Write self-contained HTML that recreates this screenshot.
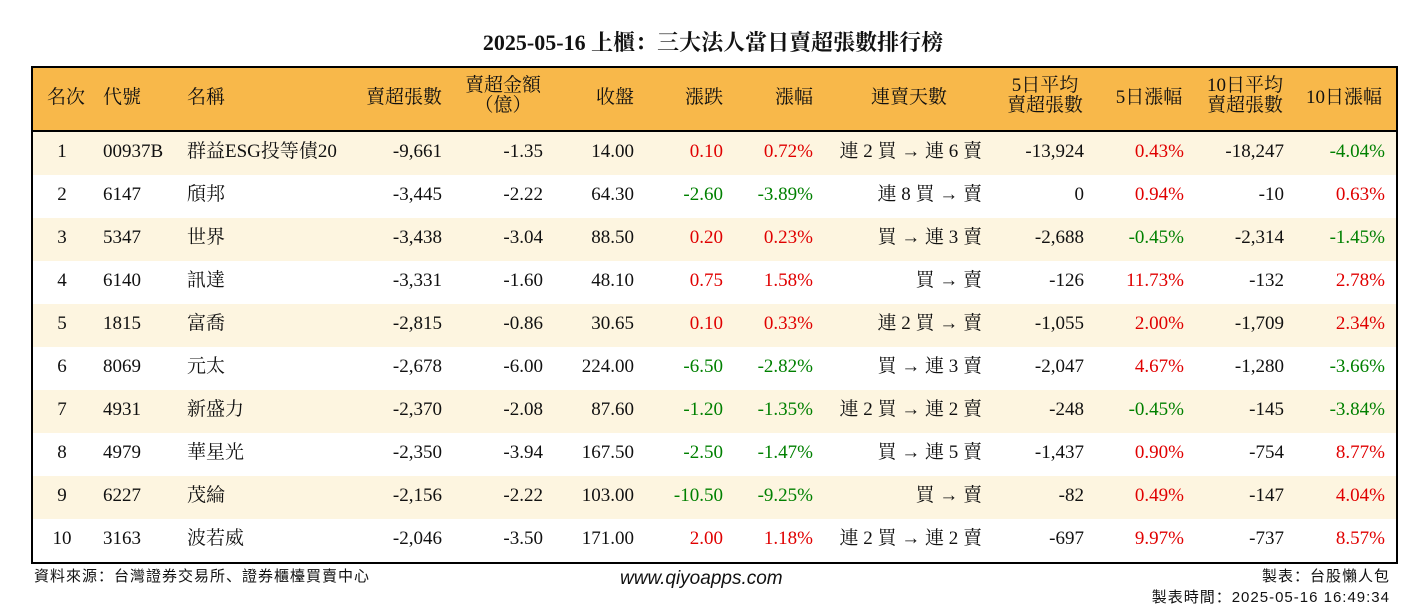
<!DOCTYPE html>
<html><head><meta charset="utf-8"><style>
body{margin:0;width:1426px;height:612px;background:#fff;position:relative;overflow:hidden;font-family:"Liberation Serif","Noto Serif CJK SC",serif;color:#111}
.t{position:absolute;white-space:nowrap;font-size:19px;line-height:24px}
#title{position:absolute;left:0;width:1426px;top:28px;line-height:30px;text-align:center;font-size:22px;font-weight:bold;font-family:"Liberation Serif","Noto Serif CJK SC",serif}
#tbl{position:absolute;left:31px;top:66px;width:1363px;height:494px;border:2px solid #000}
#hdr{position:absolute;left:0;top:0;width:1363px;height:62px;background:#f8b84a;border-bottom:2px solid #000}
.row{position:absolute;left:0;width:1363px;height:43px}
.foot{position:absolute;font-family:"Liberation Sans","WenQuanYi Zen Hei",sans-serif;font-size:15px;line-height:20px;white-space:nowrap;letter-spacing:1px}
.r{color:#e00000}.g{color:#008000}
</style></head><body>
<div id="title">2025-05-16 上櫃：三大法人當日賣超張數排行榜</div>
<div id="tbl"><div id="hdr"></div></div>
<div class="foot" style="left:34px;top:567px">資料來源：台灣證券交易所、證券櫃檯買賣中心</div>
<div class="foot" style="left:620px;top:569px;font-size:19px;font-style:italic;letter-spacing:0">www.qiyoapps.com</div>
<div class="foot" style="right:36px;top:567px">製表：台股懶人包</div>
<div class="foot" style="right:36px;top:588px">製表時間：2025-05-16 16:49:34</div>
<script>
const headers=["名次","代號","名稱","賣超張數","賣超金額<br>（億）","收盤","漲跌","漲幅","連賣天數","5日平均<br>賣超張數","5日漲幅","10日平均<br>賣超張數","10日漲幅"];
const ranks=[1,2,3,4,5,6,7,8,9,10];
const codes=["00937B","6147","5347","6140","1815","8069","4931","4979","6227","3163"];
const names=["群益ESG投等債20","頎邦","世界","訊達","富喬","元太","新盛力","華星光","茂綸","波若威"];
const sellQty=["-9,661","-3,445","-3,438","-3,331","-2,815","-2,678","-2,370","-2,350","-2,156","-2,046"];
const sellAmt=["-1.35","-2.22","-3.04","-1.60","-0.86","-6.00","-2.08","-3.94","-2.22","-3.50"];
const closes=["14.00","64.30","88.50","48.10","30.65","224.00","87.60","167.50","103.00","171.00"];
const chg=["0.10","-2.60","0.20","0.75","0.10","-6.50","-1.20","-2.50","-10.50","2.00"];
const chgPct=["0.72%","-3.89%","0.23%","1.58%","0.33%","-2.82%","-1.35%","-1.47%","-9.25%","1.18%"];
const streak=["連 2 買 → 連 6 賣","連 8 買 → 賣","買 → 連 3 賣","買 → 賣","連 2 買 → 賣","買 → 連 3 賣","連 2 買 → 連 2 賣","買 → 連 5 賣","買 → 賣","連 2 買 → 連 2 賣"];
const avg5=["-13,924","0","-2,688","-126","-1,055","-2,047","-248","-1,437","-82","-697"];
const pct5=["0.43%","0.94%","-0.45%","11.73%","2.00%","4.67%","-0.45%","0.90%","0.49%","9.97%"];
const avg10=["-18,247","-10","-2,314","-132","-1,709","-1,280","-145","-754","-147","-737"];
const pct10=["-4.04%","0.63%","-1.45%","2.78%","2.34%","-3.66%","-3.84%","8.77%","4.04%","8.57%"];
const cols=[[62,'c'],[103,'l'],[187,'l'],[442,'r'],[543,'r'],[634,'r'],[723,'r'],[813,'r'],[982,'r'],[1084,'r'],[1184,'r'],[1284,'r'],[1385,'r']];
const hcols=[[66,'c'],[103,'l'],[187,'l'],[442,'r'],[503,'c'],[634,'r'],[723,'r'],[813,'r'],[909,'c'],[1045,'c'],[1149,'c'],[1245,'c'],[1344,'c']];
const names_c=["rank","code","name","sell-qty","sell-amount","close","change","change-pct","streak","avg5-qty","pct5","avg10-qty","pct10"];
function place(el,x,al,top){
  el.style.top=top+'px';
  if(al==='l')el.style.left=x+'px';
  else if(al==='r')el.style.right=(1426-x)+'px';
  else{el.style.left=(x-100)+'px';el.style.width='200px';el.style.textAlign='center';}
}
function colorOf(v){return v.startsWith('-')?'g':(parseFloat(v)>0?'r':'');}
headers.forEach((h,i)=>{
  const el=document.createElement('div');el.className='t';el.innerHTML=h;
  el.style.lineHeight='20px';el.style.textAlign=hcols[i][1]==='r'?'right':'center';
  
  
  place(el,hcols[i][0],hcols[i][1],h.includes('<br>')?76:88);
  document.body.appendChild(el);
});
const tbl=document.getElementById('tbl');
ranks.forEach((r,k)=>{
  const row=document.createElement('div');row.className='row';
  row.style.top=(64+k*43)+'px';row.style.background=k%2===0?'#fdf5e0':'#fff';
  
  
  tbl.appendChild(row);
  const vals=[String(r),codes[k],names[k],sellQty[k],sellAmt[k],closes[k],chg[k],chgPct[k],streak[k],avg5[k],pct5[k],avg10[k],pct10[k]];
  vals.forEach((v,i)=>{
    const el=document.createElement('div');el.className='t';el.textContent=v;
    if([6,7,10,12].includes(i))el.className+=' '+colorOf(v);
    
    
    place(el,cols[i][0],cols[i][1],140+k*43);
    document.body.appendChild(el);
  });
});
</script>
</body></html>
